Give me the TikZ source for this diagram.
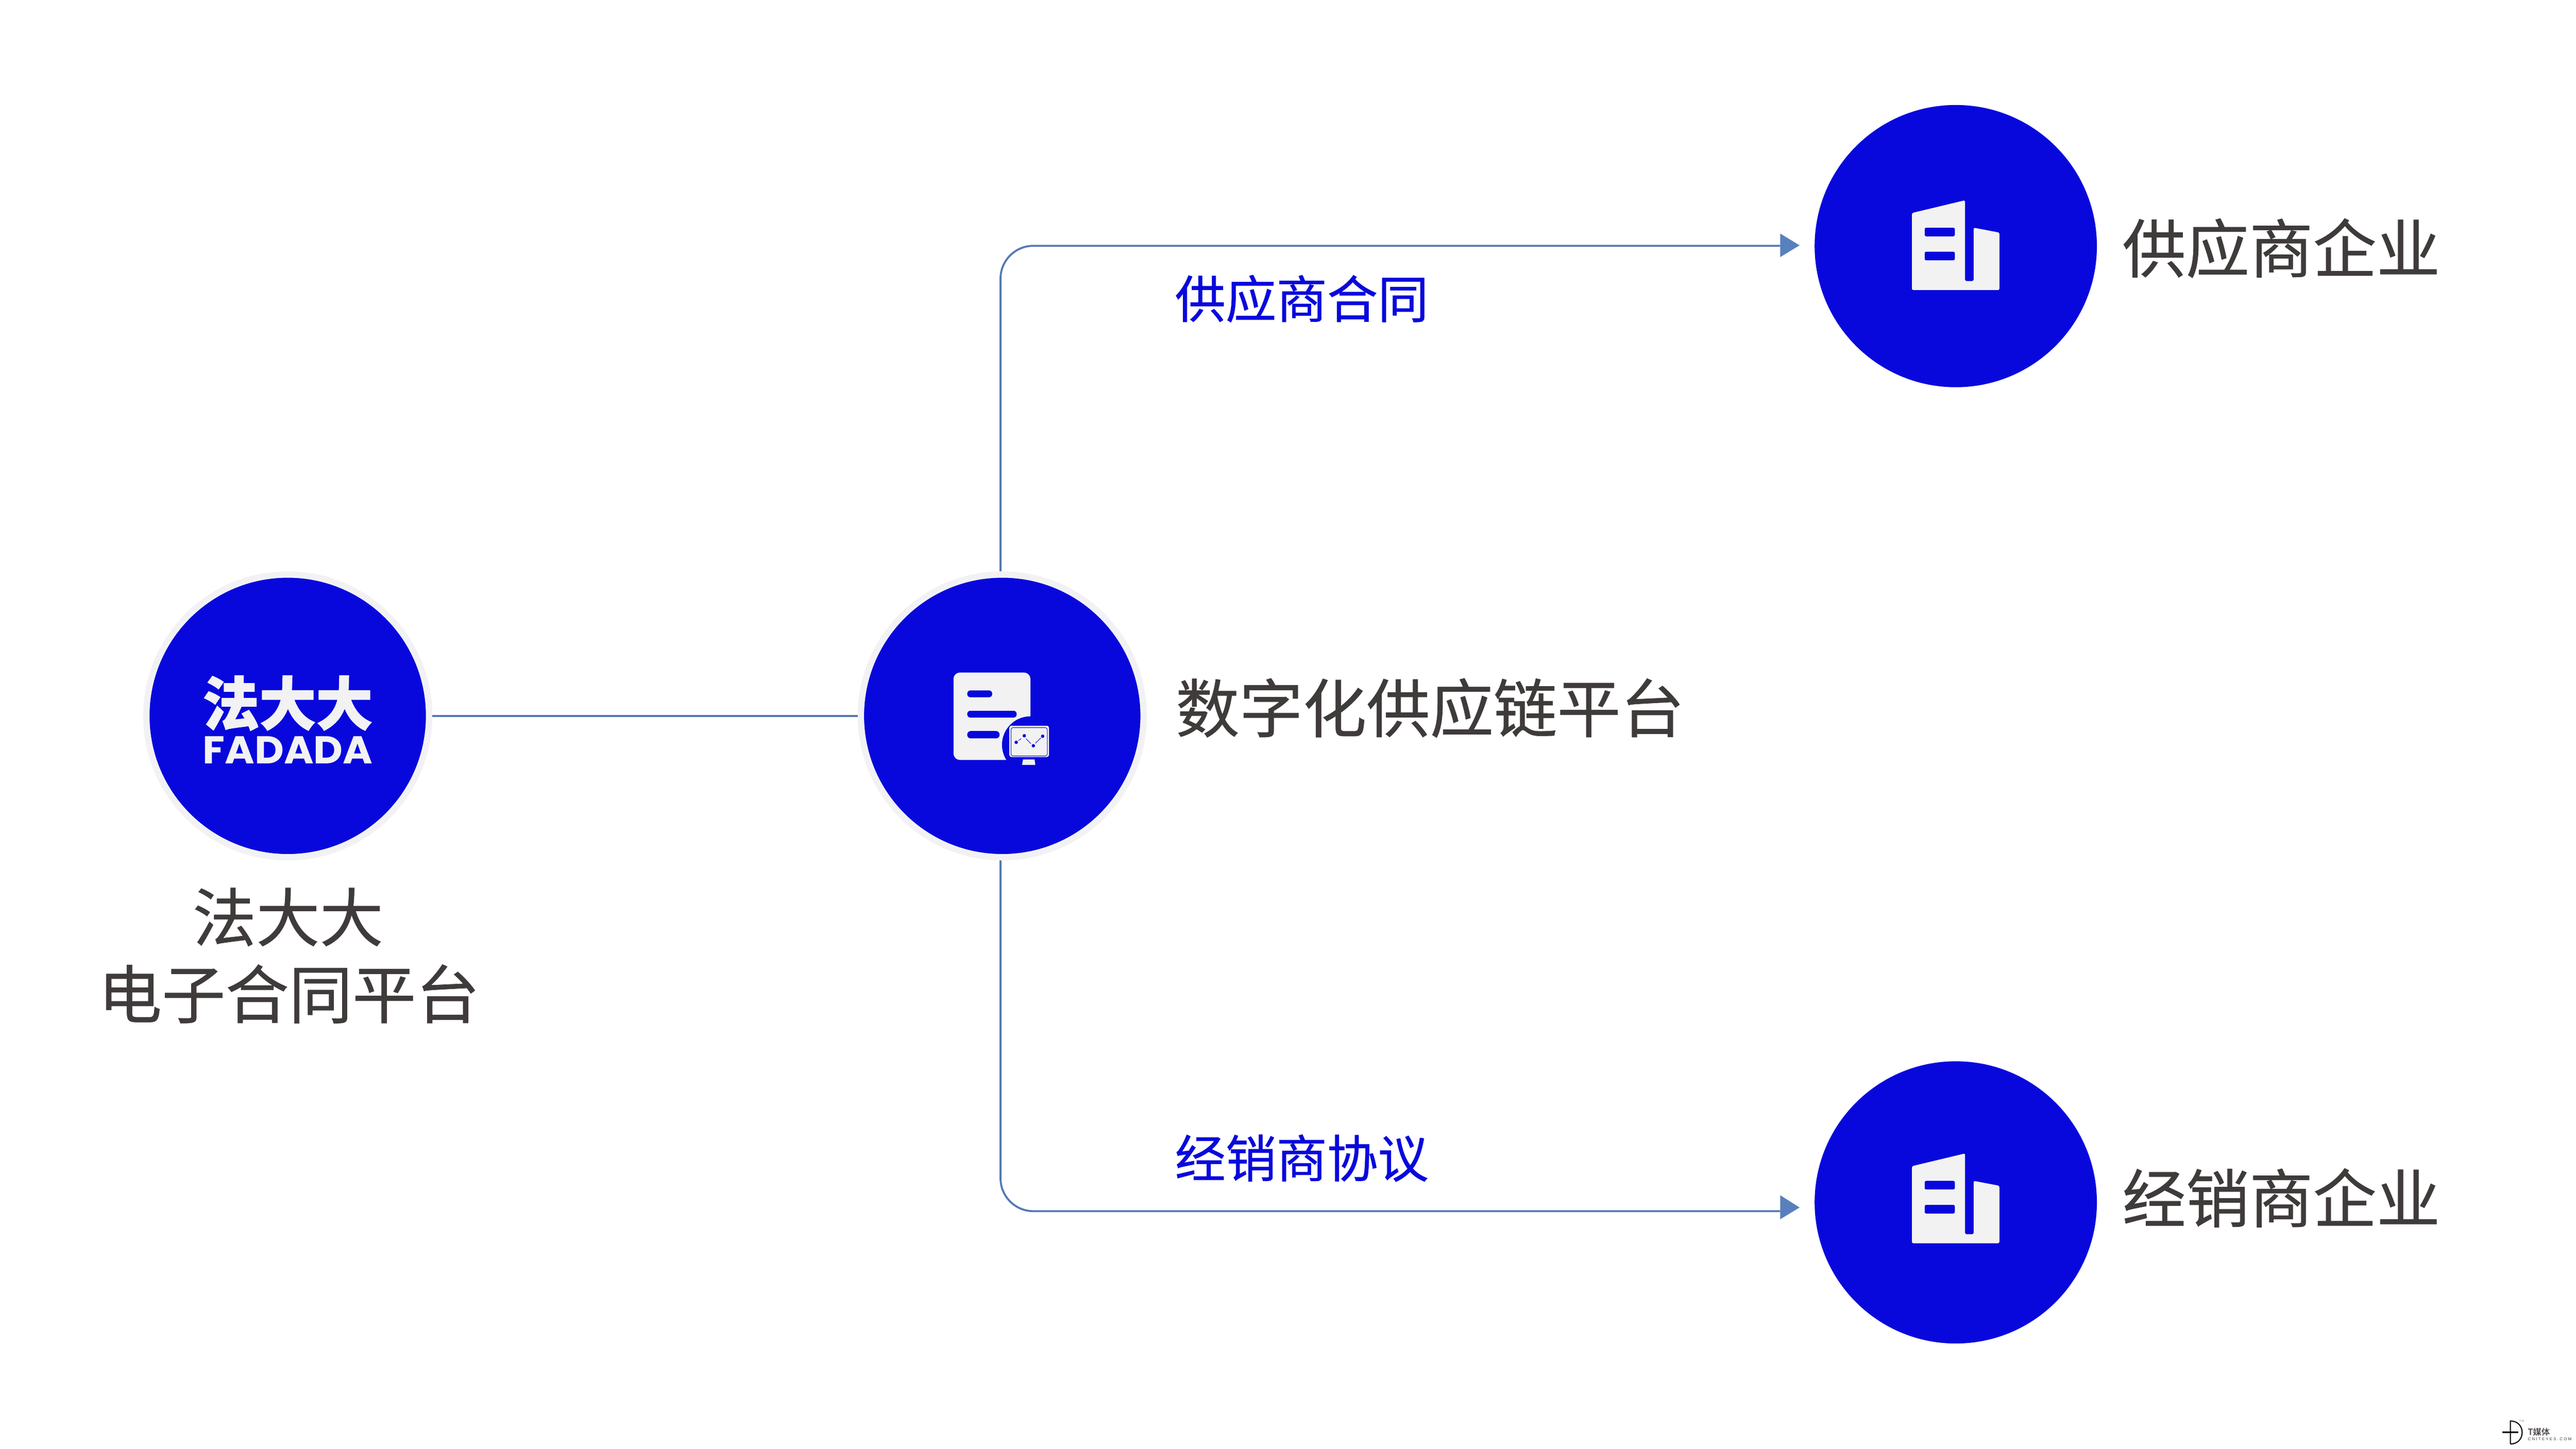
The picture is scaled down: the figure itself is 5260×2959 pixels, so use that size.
\documentclass[tikz,border=0pt]{standalone}
\usepackage{fontspec}
\setmainfont[FakeBold=0.6]{Noto Sans CJK SC}
\newfontfamily\logocjk[BoldFeatures={FakeBold=1.5}]{Noto Sans CJK SC}
\newfontfamily\logolat{Poppins}
\newfontfamily\wmlat[LetterSpace=28]{Liberation Sans}
\definecolor{brandblue}{HTML}{0808DC}
\definecolor{ringgray}{HTML}{F2F2F4}
\definecolor{icongray}{HTML}{F2F2F3}
\definecolor{linkblue}{HTML}{5579B4}
\definecolor{tipblue}{HTML}{5880BC}
\definecolor{darktext}{HTML}{3F3B3A}
\tikzset{
  ringed/.style={circle,draw=ringgray,fill=brandblue,line width=0.13cm,minimum size=5.77cm,inner sep=0pt},
  plain/.style={circle,fill=brandblue,minimum size=5.76cm,inner sep=0pt,outer sep=0pt},
  link/.style={draw=linkblue,line width=0.04cm},
  tip/.style={fill=tipblue},
  bigtext/.style={text=darktext,font=\fontsize{36.9pt}{44pt}\selectfont,inner sep=0pt,text height=31pt,text depth=3pt},
  smalltext/.style={text=brandblue,font=\fontsize{29.45pt}{35pt}\selectfont,inner sep=0pt,text height=24.8pt,text depth=2.4pt},
  iconfill/.style={fill=icongray},
  iconcut/.style={fill=brandblue},
}
\newcommand{\buildingicon}[1]{%
  \begin{scope}[yshift=#1]
    \fill[iconfill,rounded corners=0.03cm] (3904,435) -- (4012.5,409) -- (4012.5,574) -- (4030,574) -- (4030,465) -- (4082.5,475) -- (4082.5,592.5) -- (3904,592.5) -- cycle;
    \fill[iconcut,rounded corners=0.03cm] (3930,465) rectangle (3991.5,482.6);
    \fill[iconcut,rounded corners=0.03cm] (3930,514) rectangle (3991.5,531.6);
  \end{scope}}
\begin{document}
\begin{tikzpicture}[x=0.01cm,y=-0.01cm]
\useasboundingbox[fill=white] (0,0) rectangle (5260,2959);
% nodes
\node[ringed] (fdd) at (587.5,1462) {};
\node[ringed] (plat) at (2046.5,1462) {};
\node[plain] (sup) at (3993.5,502.6) {};
\node[plain] (dist) at (3993.5,2455.6) {};
% connector ends
\coordinate (topv) at ([xshift=-0.035cm]plat.north);
\coordinate (botv) at ([xshift=-0.035cm]plat.south);
\coordinate (topend) at (3635,502);
\coordinate (botend) at (3635,2473.5);
\draw[link] (fdd.east) -- (plat.west);
\draw[link,rounded corners=0.67cm] (topv) |- (topend);
\draw[link,rounded corners=0.67cm] (botv) |- (botend);
\fill[tip] (topend |- 0,477) -- (3674.5,501) -- (topend |- 0,525) -- cycle;
\fill[tip] (botend |- 0,2441) -- (3674.5,2466) -- (botend |- 0,2490) -- cycle;
% logo
\node[inner sep=0pt,text=icongray] (logocn) at (587.5,1436) {\resizebox{3.47cm}{1.01cm}{\logocjk\bfseries 法大大}};
\node[inner sep=0pt,text=icongray] (logoen) at (587.5,1532) {\resizebox{3.47cm}{0.555cm}{\logolat\bfseries FADADA}};
% document icon
\fill[iconfill,rounded corners=0.13cm] (1947,1373.5) rectangle (2104,1552);
\fill[iconcut,rounded corners=0.065cm] (1975,1410) rectangle (2026,1424);
\fill[iconcut,rounded corners=0.065cm] (1975,1451.5) rectangle (2076,1465.5);
\fill[iconcut,rounded corners=0.07cm] (1975,1493) rectangle (2041,1508);
\fill[iconcut] (2104,1521) circle[radius=0.58cm];
\draw[fill=icongray,draw=icongray,line width=0.01cm,rounded corners=0.04cm] (2061.5,1482.5) rectangle (2141.5,1545.5);
\draw[draw=brandblue,line width=0.01cm,rounded corners=0.04cm] (2064.5,1486) rectangle (2138.5,1544);
\fill[iconfill] (2089,1551) -- (2112.5,1551) -- (2114,1562) -- (2087,1562) -- cycle;
\foreach \px/\py in {2075/1516,2091.5/1502.6,2110/1523,2129/1503.5} \fill[iconcut] (\px,\py) circle[radius=0.035cm];
\draw[brandblue,line width=0.01cm] (2079.5,1512.6) -- (2085,1508.4) (2095,1508.4) -- (2105,1519) (2114,1518) -- (2125.4,1507);
% building icons
\buildingicon{0cm}
\buildingicon{-19.455cm}
% labels
\node[bigtext] (lfdd1) at (588,1873) {法大大};
\node[bigtext] (lfdd2) at (590,2030) {电子合同平台};
\node[bigtext] (lplat) at (2920,1446) {数字化供应链平台};
\node[bigtext] (lsup) at (4658,507) {供应商企业};
\node[bigtext] (ldist) at (4658,2447) {经销商企业};
\node[smalltext] (lcontract) at (2658,610) {供应商合同};
\node[smalltext] (lagree) at (2658,2365) {经销商协议};
% watermark
\draw[black,line width=0.022cm] (5126,2949) -- (5126,2902) .. controls (5158,2902) and (5158,2949) .. (5126,2949);
\draw[black,line width=0.022cm] (5110,2925) -- (5142,2925);
\node[inner sep=0pt,text=gray] (wmtm) at (5149,2902) {\fontsize{1.6pt}{2pt}\selectfont\wmlat TM};
\node[inner sep=0pt,anchor=west,text=darktext] (wmcn) at (5161,2924) {\fontsize{4.9pt}{6pt}\selectfont T媒体};
\node[inner sep=0pt,anchor=west,text=darktext] (wmen) at (5161,2939) {\resizebox{0.89cm}{!}{\wmlat CNITEYES.COM}};
\end{tikzpicture}
\end{document}
